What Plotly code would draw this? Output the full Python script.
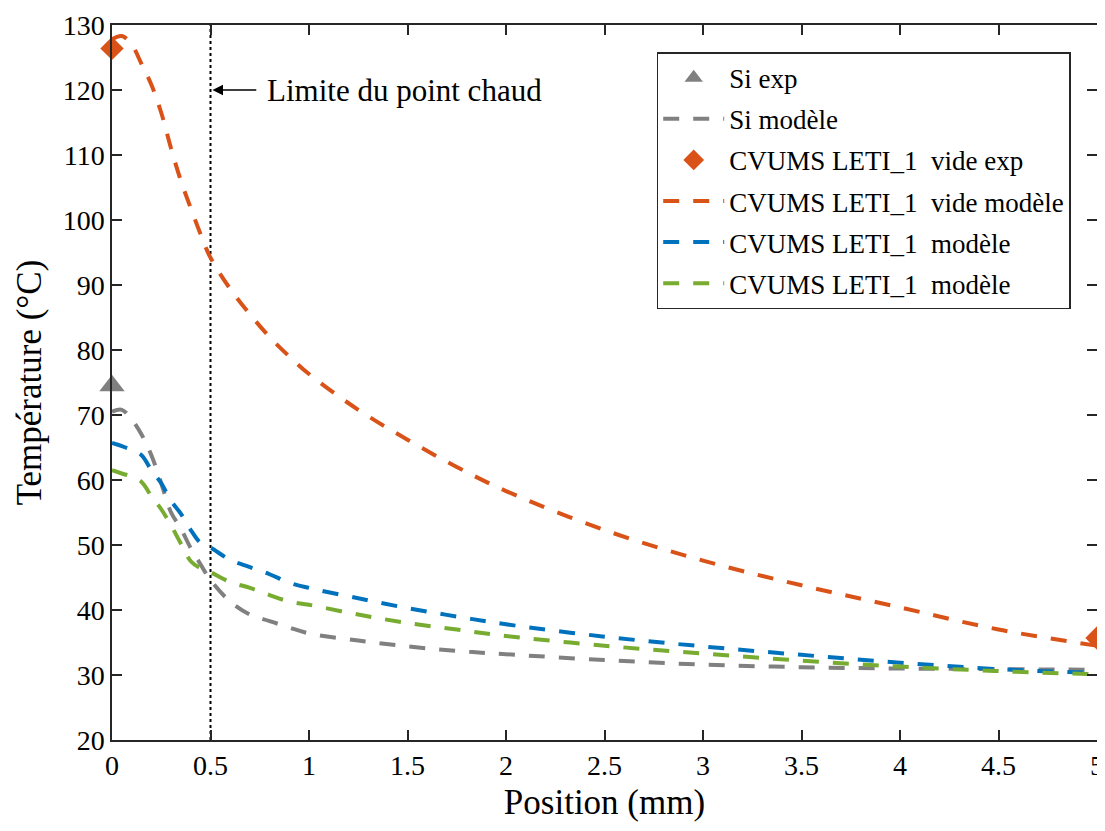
import plotly.graph_objects as go

# ---- data ----
pos = [0, 0.05, 0.1, 0.15, 0.2, 0.25, 0.3, 0.35, 0.4, 0.45, 0.5, 0.6, 0.7, 0.8, 0.9,
       1.0, 1.25, 1.5, 1.75, 2.0, 2.5, 3.0, 3.5, 4.0, 4.5, 5.0]

si_model = [70.5, 70.8, 69.3, 67.0, 63.8, 59.5, 55.0, 52.5, 49.5, 47.0, 44.6, 41.3, 39.3, 38.3, 37.3,
            36.4, 35.3, 34.4, 33.7, 33.2, 32.3, 31.6, 31.2, 31.0, 30.9, 30.8]
vide_model = [127.8, 128.3, 127.0, 124.0, 120.8, 116.5, 111.0, 106.0, 101.8, 97.8, 94.2, 89.4, 85.5, 82.0, 79.0,
              76.3, 70.8, 66.2, 62.0, 58.3, 52.3, 47.6, 43.8, 40.4, 37.0, 34.5]
blue_model = [65.7, 65.2, 64.6, 63.8, 61.5, 59.5, 56.8, 54.8, 52.3, 50.3, 49.6, 47.7, 46.6, 45.5, 44.2,
              43.4, 41.8, 40.3, 39.0, 37.8, 35.9, 34.4, 33.1, 31.9, 30.9, 30.3]
green_model = [61.5, 61.0, 60.5, 59.7, 57.5, 55.5, 53.0, 50.2, 47.5, 46.4, 45.8, 44.3, 43.4, 42.3, 41.3,
               40.8, 39.3, 38.0, 37.0, 36.0, 34.5, 33.3, 32.2, 31.3, 30.6, 30.1]

si_exp_x = [0]
si_exp_y = [74.5]
vide_exp_x = [0, 5]
vide_exp_y = [126.4, 35.7]

hot_spot_limit = 0.5
y_range = [20, 130]
x_ticks = [0, 0.5, 1, 1.5, 2, 2.5, 3, 3.5, 4, 4.5, 5]
y_ticks = [20, 30, 40, 50, 60, 70, 80, 90, 100, 110, 120, 130]

GRAY = "#808080"
ORANGE = "#D95319"
BLUE = "#0072BD"
GREEN = "#77AC30"
FONT = "Liberation Serif"
DASH = "16px,14px"
LW = 4

fig = go.Figure()

fig.add_trace(go.Scatter(x=[hot_spot_limit, hot_spot_limit], y=y_range, mode="lines",
                         line=dict(color="black", width=2, dash="3px,3px"),
                         showlegend=False, hoverinfo="skip"))

fig.add_trace(go.Scatter(x=si_exp_x, y=si_exp_y, mode="markers", name="Si exp",
                         marker=dict(symbol="triangle-up", size=22, color=GRAY),
                         legendgroup="g1", cliponaxis=False))
fig.add_trace(go.Scatter(x=pos, y=si_model, mode="lines", name="Si modèle",
                         line=dict(color=GRAY, width=LW, dash=DASH, shape="spline"),
                         legendgroup="g2", cliponaxis=False))
fig.add_trace(go.Scatter(x=vide_exp_x, y=vide_exp_y, mode="markers", name="CVUMS LETI_1  vide exp",
                         marker=dict(symbol="diamond", size=18, color=ORANGE),
                         legendgroup="g3", cliponaxis=False))
fig.add_trace(go.Scatter(x=pos, y=vide_model, mode="lines", name="CVUMS LETI_1  vide modèle",
                         line=dict(color=ORANGE, width=LW, dash=DASH, shape="spline"),
                         legendgroup="g4", cliponaxis=False))
fig.add_trace(go.Scatter(x=pos, y=blue_model, mode="lines", name="CVUMS LETI_1  modèle",
                         line=dict(color=BLUE, width=LW, dash=DASH, shape="spline"),
                         legendgroup="g5", cliponaxis=False))
fig.add_trace(go.Scatter(x=pos, y=green_model, mode="lines", name="CVUMS LETI_1  modèle",
                         line=dict(color=GREEN, width=LW, dash=DASH, shape="spline"),
                         legendgroup="g6", cliponaxis=False))

# arrow
fig.add_annotation(x=0.51, y=120, ax=0.74, ay=120, xref="x", yref="y", axref="x", ayref="y",
                   text="", showarrow=True, arrowhead=2, arrowsize=1.4, arrowwidth=1.5,
                   arrowcolor="black")
fig.add_annotation(x=0.775, y=120, xref="x", yref="y", text="Limite du point chaud",
                   showarrow=False, xanchor="left", yanchor="middle",
                   font=dict(family=FONT, size=31, color="black"))

axis_common = dict(showline=True, linecolor="#262626", linewidth=1.5, mirror="ticks",
                   ticks="inside", ticklen=10, tickwidth=1.5, tickcolor="#262626",
                   showgrid=False, zeroline=False, automargin=False,
                   tickfont=dict(family=FONT, size=28, color="black"))

fig.update_xaxes(range=[0, 5], tickvals=x_ticks, ticktext=[f"{v:g}" for v in x_ticks],
                 title=dict(text="Position (mm)", font=dict(family=FONT, size=35, color="black"),
                            standoff=9),
                 **axis_common)
fig.update_yaxes(range=y_range, tickvals=y_ticks,
                 title=dict(text="Température (°C)", font=dict(family=FONT, size=35, color="black"),
                            standoff=10),
                 **axis_common)

# the page body has an 8px default margin, so the figure is offset by 8px
fig.update_layout(
    width=1097, height=815,
    margin=dict(l=104, r=8, t=17, b=83),
    paper_bgcolor="white", plot_bgcolor="white",
    showlegend=True,
    legend=dict(x=0.553, y=0.962, xanchor="left", yanchor="top",
                bgcolor="white", bordercolor="#262626", borderwidth=1.5,
                font=dict(family=FONT, size=27, color="black"),
                tracegroupgap=3, itemwidth=61),
)

fig.write_html("out.html")
